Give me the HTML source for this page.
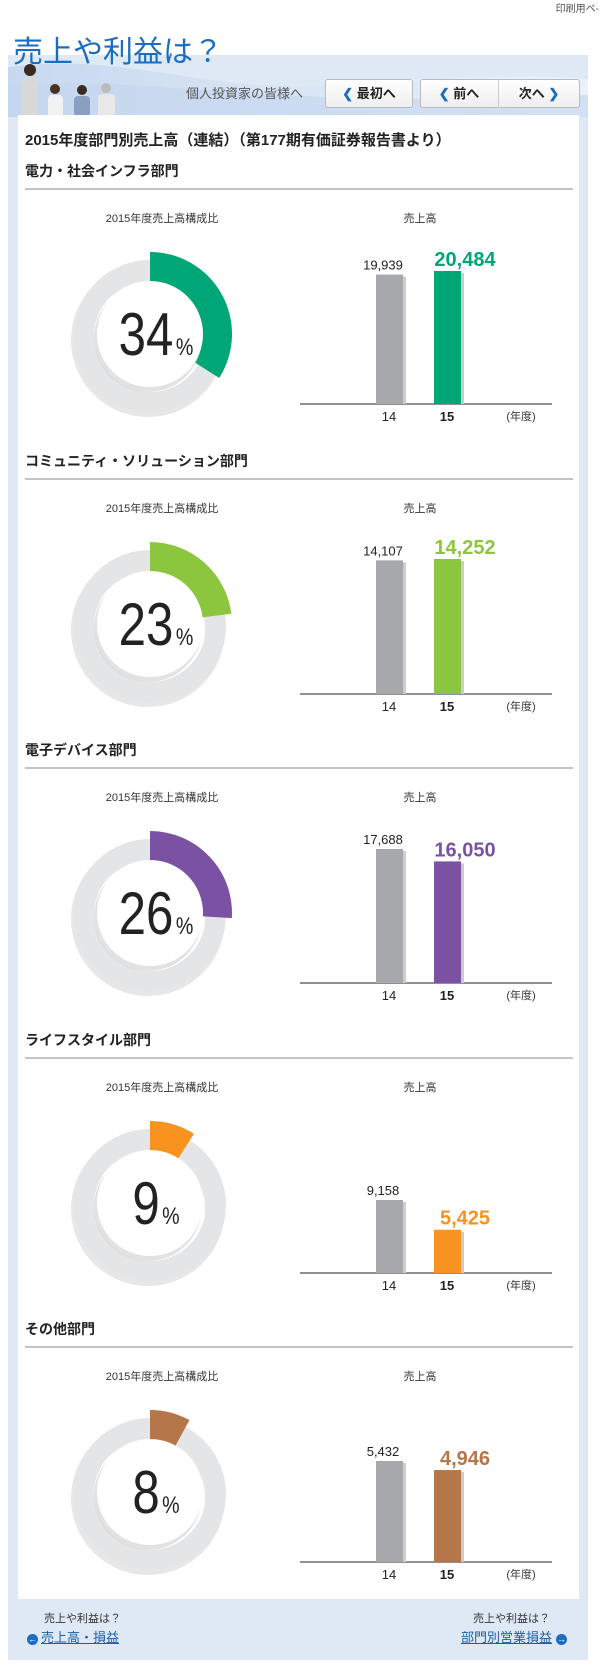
<!DOCTYPE html>
<html><head><meta charset="utf-8">
<style>
body{margin:0;width:601px;height:1668px;background:#fff;font-family:"Liberation Sans","Noto Sans CJK JP",sans-serif;position:relative;overflow:hidden}
.abs{position:absolute}
</style></head><body>
<div class="abs" style="right:2px;top:0;font-size:10px;color:#555">印刷用ペ-</div>
<div class="abs" style="left:8px;top:62px;width:580px;height:1598px;background:#dfe9f6"></div>
<svg class="abs" style="left:8px;top:55px" width="580" height="62">
<defs><linearGradient id="wg" x1="0" x2="1"><stop offset="0" stop-color="#c8d9ef"/><stop offset="1" stop-color="#eaf1fa"/></linearGradient></defs>
<rect width="580" height="62" fill="#dfe9f6"/>
<path d="M0 12 C120 -4 200 40 330 30 C430 22 500 18 580 24 L580 62 L0 62Z" fill="url(#wg)"/>
<path d="M0 30 C150 20 250 55 580 40 L580 62 L0 62Z" fill="#c3d6ee" opacity=".6"/>
<g>
<circle cx="22" cy="15" r="6" fill="#3a2a22"/><rect x="14" y="22" width="16" height="40" rx="5" fill="#d8d8d8"/>
<circle cx="47" cy="34" r="5" fill="#4a3020"/><rect x="40" y="40" width="15" height="22" rx="4" fill="#f2f2f2"/>
<circle cx="74" cy="35" r="5" fill="#3a2a22"/><rect x="66" y="41" width="16" height="21" rx="4" fill="#8aa0c0"/>
<circle cx="98" cy="33" r="5" fill="#bbb"/><rect x="90" y="39" width="17" height="23" rx="4" fill="#e8e8e8"/>
</g></svg>
<div class="abs" style="left:13px;top:27px;font-size:30px;color:#1c6cbf">売上や利益は？</div>
<div class="abs" style="left:186px;top:83px;font-size:13px;color:#555">個人投資家の皆様へ</div>
<div class="abs" style="left:325px;top:79px;width:86px;height:27px;border:1px solid #bbb;border-radius:3px;background:linear-gradient(#fff,#eee);font-size:13px;font-weight:bold;line-height:27px;text-align:center;color:#222"><span style="color:#1c6cbf">❮</span> 最初へ</div>
<div class="abs" style="left:420px;top:79px;width:158px;height:27px;border:1px solid #bbb;border-radius:3px;background:linear-gradient(#fff,#eee)"></div>
<div class="abs" style="left:420px;top:79px;width:78px;height:29px;font-size:13px;font-weight:bold;line-height:29px;text-align:center;border-right:1px solid #ccc;color:#222"><span style="color:#1c6cbf">❮</span> 前へ</div>
<div class="abs" style="left:500px;top:79px;width:78px;height:29px;font-size:13px;font-weight:bold;line-height:29px;text-align:center;color:#222">次へ <span style="color:#1c6cbf">❯</span></div>
<div class="abs" style="left:18px;top:115px;width:561px;height:1484px;background:#fff"></div>
<div class="abs" style="left:25px;top:129px;font-size:15px;font-weight:bold;color:#222">2015年度部門別売上高（連結）（第177期有価証券報告書より）</div>
<div id="sections"></div>
<div class="abs" style="left:44px;top:1610px;font-size:11px;color:#333">売上や利益は？</div>
<div class="abs" style="left:27px;top:1627px;font-size:13px;color:#1c5fa8;text-decoration:underline"><span style="display:inline-block;width:11px;height:11px;border-radius:50%;background:#1c6cbf;color:#fff;font-size:9px;line-height:11px;text-align:center;text-decoration:none;margin-right:3px">←</span>売上高・損益</div>
<div class="abs" style="right:51px;top:1610px;font-size:11px;color:#333">売上や利益は？</div>
<div class="abs" style="right:34px;top:1627px;font-size:13px;color:#1c5fa8;text-decoration:underline">部門別営業損益<span style="display:inline-block;width:11px;height:11px;border-radius:50%;background:#1c6cbf;color:#fff;font-size:9px;line-height:11px;text-align:center;margin-left:4px">→</span></div>
<script>
const names = ["電力・社会インフラ部門","コミュニティ・ソリューション部門","電子デバイス部門","ライフスタイル部門","その他部門"];
const shares = [34,23,26,9,8];
const sales14 = [19939,14107,17688,9158,5432];
const sales15 = [20484,14252,16050,5425,4946];
const yMax = [21560,14780,18480,17560,7530];
const colors = ["#00a676","#8cc63f","#7b51a3","#f7931e","#b5764a"];
const yearLabels = ["14","15"];
const NS="http://www.w3.org/2000/svg";
const host=document.getElementById('sections');
function fmt(v){return v.toLocaleString('en-US');}
function mk(tag,attrs,parent){const e=document.createElementNS(NS,tag);for(const k in attrs)e.setAttribute(k,attrs[k]);parent.appendChild(e);return e;}
names.forEach((nm,i)=>{
  const top=171+i*289.5;
  const h=document.createElement('div');
  h.className='abs';
  
  
  h.style.cssText=`left:25px;top:${top-10}px;font-size:14px;font-weight:bold;color:#222`;
  h.textContent=nm;host.appendChild(h);
  const svg=document.createElementNS(NS,'svg');
  svg.setAttribute('class','abs');
  
  
  svg.setAttribute('width','560');svg.setAttribute('height','270');
  svg.style.left='18px';svg.style.top=(top+10)+'px';
  host.appendChild(svg);
  const oy=top+10, ox=18;
  const ln=mk('line',{x1:25-ox,x2:573-ox,y1:189-171+top-oy,y2:189-171+top-oy,stroke:'#888','stroke-width':1},svg);
  
  
  const t1=mk('text',{x:162-ox,y:top+51-oy,'text-anchor':'middle','font-size':11,fill:'#333'},svg);
  
  
  t1.textContent='2015年度売上高構成比';
  const t2=mk('text',{x:420-ox,y:top+51-oy,'text-anchor':'middle','font-size':11,fill:'#333'},svg);
  
  
  t2.textContent='売上高';
  const cx=150-ox, cy=top+163-oy;
  mk('circle',{cx:cx-2,cy:cy+6,r:67,fill:'none',stroke:'#d0d0d0','stroke-width':20,opacity:.5},svg);
  const ring=mk('circle',{cx:cx,cy:cy+2,r:66,fill:'none',stroke:'#e4e5e7','stroke-width':20},svg);
  
  
  const a=shares[i]/100*2*Math.PI, R=82, r=52;
  const x1=cx+R*Math.sin(a), y1=cy-R*Math.cos(a), x2=cx+r*Math.sin(a), y2=cy-r*Math.cos(a);
  const lg=a>Math.PI?1:0;
  const arc=mk('path',{d:`M${cx} ${cy-R} A${R} ${R} 0 ${lg} 1 ${x1} ${y1} L${x2} ${y2} A${r} ${r} 0 ${lg} 0 ${cx} ${cy-r}Z`,fill:colors[i]},svg);
  
  
  mk('circle',{cx:cx-2,cy:cy+4,r:54,fill:'#cfcfcf',opacity:.6},svg);
  const wc=mk('circle',{cx:cx,cy:cy,r:53,fill:'#fff'},svg);
  
  
  const g=mk('g',{transform:`translate(${cx+6} ${cy+21}) scale(0.82 1)`},svg);
  const pt=mk('text',{x:0,y:0,'text-anchor':'middle',fill:'#222'},g);
  
  
  const s1=mk('tspan',{'font-size':60},pt);s1.textContent=shares[i];
  const s2=mk('tspan',{'font-size':24,dx:3},pt);s2.textContent='%';
  const axisY=top+233-oy, H=140;
  const yS=v=>axisY-v/yMax[i]*H;
  const ax=mk('line',{x1:300-ox,x2:552-ox,y1:axisY,y2:axisY,stroke:'#222','stroke-width':1},svg);
  
  
  const vals=[sales14[i],sales15[i]], bx=[376-ox,434-ox];
  vals.forEach((v,j)=>{
    mk('rect',{x:bx[j]+3,y:yS(v)+2,width:27,height:axisY-yS(v)-2,fill:'#ccc'},svg);
    const b=mk('rect',{x:bx[j],y:yS(v),width:27,height:axisY-yS(v),fill:j?colors[i]:'#a7a8ab'},svg);
    
    
    const lb=mk('text',{x:j?bx[j]+31:bx[j]+7,y:yS(v)-5,'text-anchor':'middle','font-size':j?20:13,'font-weight':j?'bold':'normal',fill:j?colors[i]:'#222'},svg);
    
    
    lb.textContent=fmt(v);
    const xl=mk('text',{x:bx[j]+13,y:axisY+17,'text-anchor':'middle','font-size':13,'font-weight':j?'bold':'normal',fill:'#222'},svg);
    
    
    xl.textContent=yearLabels[j];
  });
  const u=mk('text',{x:521-ox,y:axisY+16,'text-anchor':'middle','font-size':11,fill:'#333'},svg);
  
  
  u.textContent='(年度)';
});
</script>
</body></html>
